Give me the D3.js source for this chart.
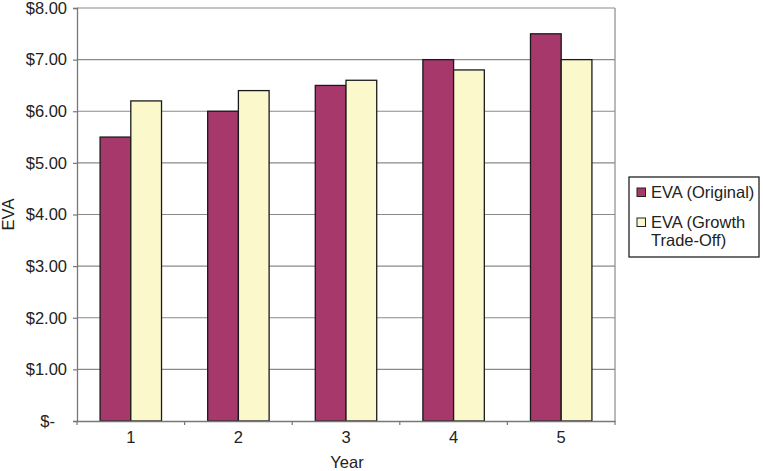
<!DOCTYPE html>
<html><head><meta charset="utf-8">
<script src="https://cdn.jsdelivr.net/npm/d3@7"></script>
<style>body{margin:0;background:#fff;} svg{display:block;font-family:"Liberation Sans",Arial,sans-serif;}</style>
</head><body>
<svg id="c" width="763" height="471"></svg>
<script>
const categories = ["1","2","3","4","5"];
const seriesNames = ["EVA (Original)", "EVA (Growth Trade-Off)"];
const original = [5.5, 6.0, 6.5, 7.0, 7.5];
const growthTradeOff = [6.2, 6.4, 6.6, 6.8, 7.0];
const yTicks = [0,1,2,3,4,5,6,7,8];
const colors = ["#A6386B", "#FBF9CC"];

const FS = 16.5;
const svg = d3.select("#c");
const L = 77, R = 615, T = 8, B = 421;
const x0 = d3.scaleBand().domain(categories).range([L, R]).paddingInner(0.429).paddingOuter(0.2145);
const x1 = d3.scaleBand().domain([0,1]).range([0, x0.bandwidth()]);
const y = d3.scaleLinear().domain([0, 8]).range([B, T]);
const fmt = v => v === 0 ? "$-" : "$" + v.toFixed(2);

// gridlines
svg.append("g").selectAll("line").data(yTicks.filter(d=>d>0)).join("line")
  .attr("x1", L).attr("x2", R).attr("y1", d=>y(d)).attr("y2", d=>y(d))
  .attr("stroke", "#8a8a8a").attr("stroke-width", 1.2);
// plot border right
svg.append("line").attr("x1", R).attr("x2", R).attr("y1", T).attr("y2", B)
  .attr("stroke", "#8a8a8a").attr("stroke-width", 1.2);

// bars
const data = categories.map((c,i)=>({c, vals:[original[i], growthTradeOff[i]]}));
svg.append("g").selectAll("g").data(data).join("g")
  .attr("transform", d=>`translate(${x0(d.c)},0)`)
  .selectAll("rect").data(d=>d.vals.map((v,k)=>({v,k}))).join("rect")
  .attr("x", d=>x1(d.k)).attr("width", x1.bandwidth())
  .attr("y", d=>y(d.v)).attr("height", d=>B - y(d.v))
  .attr("fill", d=>colors[d.k]).attr("stroke", "#1a1a1a").attr("stroke-width", 1.3);

// y axis
const yAxis = d3.axisLeft(y).tickValues(yTicks).tickFormat(fmt).tickSize(4).tickPadding(6);
const gy = svg.append("g").attr("transform", `translate(${L},0)`).call(yAxis);
gy.select(".domain").attr("stroke", "#777").attr("stroke-width", 1.3);
gy.selectAll(".tick line").attr("stroke", "#777").attr("stroke-width", 1.2);
gy.selectAll("text").attr("font-size", FS).attr("fill", "#222").attr("font-family", "Liberation Sans, Arial, sans-serif");
// accounting-format zero label sits further left
gy.selectAll(".tick text").filter(d => d === 0).attr("dx", -12);

// x axis
const xAxis = d3.axisBottom(x0).tickSize(0).tickPadding(10);
const gx = svg.append("g").attr("transform", `translate(0,${B})`).call(xAxis);
gx.select(".domain").attr("stroke", "#777").attr("stroke-width", 1.3);
gx.selectAll("text").attr("font-size", FS).attr("fill", "#222").attr("font-family", "Liberation Sans, Arial, sans-serif");
// tick marks at band boundaries
const bounds = d3.range(categories.length + 1).map(i => L + i * x0.step());
svg.append("g").selectAll("line").data(bounds).join("line")
  .attr("x1", d=>d).attr("x2", d=>d).attr("y1", B).attr("y2", B + 4)
  .attr("stroke", "#777").attr("stroke-width", 1.2);

// axis titles
svg.append("text").attr("x", 347).attr("y", 468).attr("text-anchor", "middle")
  .attr("font-size", FS).attr("fill", "#222").text("Year");
svg.append("text").attr("transform", `translate(14,${(T+B)/2}) rotate(-90)`).attr("text-anchor", "middle")
  .attr("font-size", FS).attr("fill", "#222").text("EVA");

// legend
const lg = svg.append("g");
lg.append("rect").attr("x", 629).attr("y", 177).attr("width", 130).attr("height", 80)
  .attr("fill", "#fff").attr("stroke", "#222").attr("stroke-width", 1.3);
const legendRows = [
  {k:0, sy:188, lines:["EVA (Original)"], ty:[198]},
  {k:1, sy:218, lines:["EVA (Growth", "Trade-Off)"], ty:[228, 246]}
];
legendRows.forEach(r => {
  lg.append("rect").attr("x", 637).attr("y", r.sy).attr("width", 8.5).attr("height", 8.5)
    .attr("fill", colors[r.k]).attr("stroke", "#222").attr("stroke-width", 1);
  r.lines.forEach((t,i) => lg.append("text").attr("x", 651).attr("y", r.ty[i])
    .attr("font-size", FS).attr("fill", "#222").text(t));
});
</script>
</body></html>
